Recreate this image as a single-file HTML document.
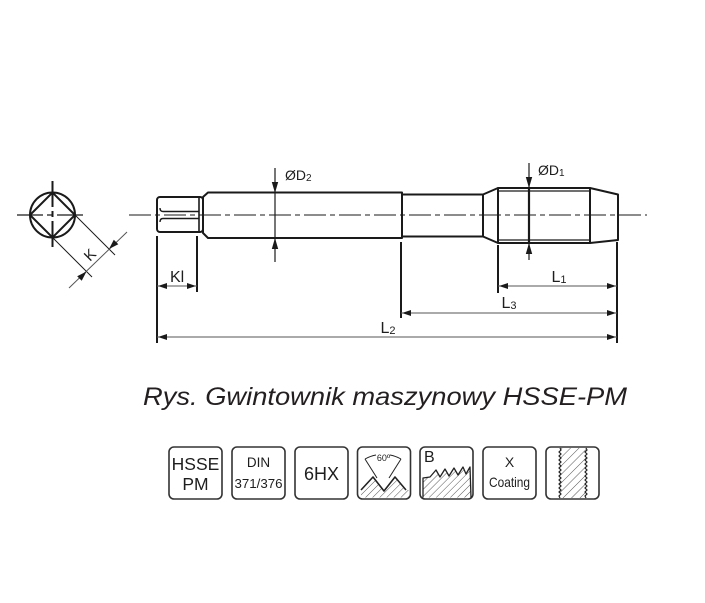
<!DOCTYPE html>
<html>
<head>
<meta charset="utf-8">
<style>
html,body{margin:0;padding:0;background:#fff;}
svg{display:block;}
text{font-family:"Liberation Sans",Arial,sans-serif;fill:#1e1e1e;}
</style>
</head>
<body>
<svg width="705" height="603" viewBox="0 0 705 603" xmlns="http://www.w3.org/2000/svg">
<defs>
<pattern id="h" width="5" height="5" patternUnits="userSpaceOnUse" patternTransform="rotate(45)">
<line x1="0" y1="0" x2="0" y2="5" stroke="#444" stroke-width="0.9"/>
</pattern>
<pattern id="h2" width="6" height="6" patternUnits="userSpaceOnUse" patternTransform="rotate(45)">
<line x1="0" y1="0" x2="0" y2="6" stroke="#444" stroke-width="0.9"/>
</pattern>
</defs>
<rect width="705" height="603" fill="#fff"/>

<!-- ===== End view ===== -->
<g stroke="#1a1a1a" fill="none">
<circle cx="52.5" cy="215" r="22.5" stroke-width="2"/>
<polygon points="30,215 52.5,192.5 75,215 52.5,237.5" stroke-width="2"/>
<line x1="17" y1="215" x2="87" y2="215" stroke-width="1.2" stroke-dasharray="26,4,6,4"/>
<line x1="52.5" y1="181" x2="52.5" y2="249" stroke-width="2" stroke-dasharray="26,4,6,4"/>
<!-- K extension lines -->
<line x1="75" y1="215" x2="115" y2="255" stroke-width="1"/>
<line x1="52.5" y1="237.5" x2="92" y2="277" stroke-width="1"/>
<!-- K dimension line -->
<line x1="127" y1="232" x2="69" y2="288" stroke-width="1" stroke="#555"/>
</g>
<polygon points="109,249 118.3,244.2 113.8,239.7" fill="#1a1a1a"/>
<polygon points="86.5,271.5 81.7,280.8 77.2,276.3" fill="#1a1a1a"/>
<text transform="translate(93.5,258.5) rotate(-45)" text-anchor="middle" font-size="15">K</text>

<!-- ===== Main view ===== -->
<g stroke="#1a1a1a" fill="none" stroke-width="2" stroke-linejoin="round">
<!-- centerline -->
<line x1="129" y1="215" x2="647" y2="215" stroke-width="1.1" stroke-dasharray="22,4,5,4"/>
<!-- hex end -->
<rect x="157" y="197" width="46" height="35" rx="3"/>
<path d="M199,197 L199,232" stroke-width="1.6"/>
<path d="M199,211.5 L163,211.5 Q160,211.5 160,208" stroke-width="1.4"/>
<path d="M199,218.5 L163,218.5 Q160,218.5 160,222" stroke-width="1.4"/>
<!-- shank -->
<polygon points="203,197 208,192.5 402,192.5 402,238 208,238 203,233"/>
<!-- neck -->
<line x1="402" y1="194.5" x2="483" y2="194.5"/>
<line x1="402" y1="236.5" x2="483" y2="236.5"/>
<line x1="483" y1="194.5" x2="483" y2="236.5"/>
<!-- taper -->
<line x1="483" y1="194.5" x2="498" y2="188"/>
<line x1="483" y1="236.5" x2="498" y2="243"/>
<!-- thread body -->
<rect x="498" y="188" width="92" height="55"/>
<line x1="498" y1="191" x2="590" y2="191" stroke-width="1.2"/>
<line x1="498" y1="240" x2="590" y2="240" stroke-width="1.2"/>
<!-- chamfer -->
<polyline points="590,188 618,194.5 618,240 590,243"/>
</g>

<!-- ØD2 -->
<line x1="275" y1="168" x2="275" y2="262" stroke="#1a1a1a" stroke-width="1.2"/>
<polygon points="275,193 271.8,182 278.2,182" fill="#1a1a1a"/>
<polygon points="275,238 271.8,249 278.2,249" fill="#1a1a1a"/>
<text x="285" y="180" font-size="14">ØD<tspan font-size="10" dy="1">2</tspan></text>

<!-- ØD1 -->
<line x1="529" y1="163" x2="529" y2="260" stroke="#1a1a1a" stroke-width="1.2"/>
<line x1="529" y1="188" x2="529" y2="243" stroke="#1a1a1a" stroke-width="2.2"/>
<polygon points="529,188 525.8,177 532.2,177" fill="#1a1a1a"/>
<polygon points="529,243 525.8,254 532.2,254" fill="#1a1a1a"/>
<text x="538" y="175" font-size="14">ØD<tspan font-size="10" dy="1">1</tspan></text>

<!-- extension lines -->
<g stroke="#1a1a1a" stroke-width="2">
<line x1="157" y1="236" x2="157" y2="343"/>
<line x1="197" y1="236" x2="197" y2="292"/>
<line x1="401" y1="242" x2="401" y2="318"/>
<line x1="498" y1="245" x2="498" y2="293"/>
<line x1="617" y1="242" x2="617" y2="343"/>
</g>

<!-- dimension lines -->
<g stroke="#555" stroke-width="1">
<line x1="157" y1="286" x2="197" y2="286"/>
<line x1="498" y1="286" x2="617" y2="286"/>
<line x1="401" y1="313" x2="617" y2="313"/>
<line x1="157" y1="337" x2="617" y2="337"/>
</g>
<g fill="#1a1a1a">
<polygon points="158,286 167,283 167,289"/>
<polygon points="196,286 187,283 187,289"/>
<polygon points="499,286 508,283 508,289"/>
<polygon points="616,286 607,283 607,289"/>
<polygon points="402,313 411,310 411,316"/>
<polygon points="616,313 607,310 607,316"/>
<polygon points="158,337 167,334 167,340"/>
<polygon points="616,337 607,334 607,340"/>
</g>
<text x="170" y="282" font-size="16">Kl</text>
<text x="551.5" y="282" font-size="16">L<tspan font-size="11" dy="1">1</tspan></text>
<text x="501.5" y="308" font-size="16">L<tspan font-size="11" dy="1">3</tspan></text>
<text x="380.5" y="333" font-size="16">L<tspan font-size="11" dy="1">2</tspan></text>

<!-- caption -->
<text x="143" y="405" font-size="25" font-style="italic" textLength="484" lengthAdjust="spacingAndGlyphs" style="fill:#231f20">Rys. Gwintownik maszynowy HSSE-PM</text>

<!-- ===== Icons ===== -->
<g fill="none" stroke="#333" stroke-width="1.6">
<rect x="169" y="447" width="53" height="52" rx="5"/>
<rect x="232" y="447" width="53" height="52" rx="5"/>
<rect x="295" y="447" width="53" height="52" rx="5"/>
<rect x="357.5" y="447" width="53" height="52" rx="5"/>
<rect x="420" y="447" width="53" height="52" rx="5"/>
<rect x="483" y="447" width="53" height="52" rx="5"/>
<rect x="546" y="447" width="53" height="52" rx="5"/>
</g>

<text x="195.5" y="470" font-size="17.5" text-anchor="middle">HSSE</text>
<text x="195.5" y="490" font-size="17.5" text-anchor="middle">PM</text>

<text x="258.5" y="467" font-size="13.5" text-anchor="middle">DIN</text>
<text x="234.5" y="488" font-size="13" textLength="48" lengthAdjust="spacingAndGlyphs">371/376</text>

<text x="321.5" y="480" font-size="18" text-anchor="middle">6HX</text>

<!-- 60° thread icon -->
<polygon points="361,497.5 361,490 373,477 384,491 395,477 406,490 409,490 409,497.5" fill="url(#h)" stroke="none"/>
<polyline points="361,490 373,477 384,491 395,477 406,490" fill="none" stroke="#222" stroke-width="1.6" stroke-linejoin="round"/>
<line x1="365" y1="459" x2="377" y2="478" stroke="#222" stroke-width="1"/>
<line x1="401" y1="459" x2="389" y2="478" stroke="#222" stroke-width="1"/>
<path d="M365,459 A35.8,35.8 0 0 1 376,455" fill="none" stroke="#222" stroke-width="1"/>
<path d="M390,455 A35.8,35.8 0 0 1 401,459" fill="none" stroke="#222" stroke-width="1"/>
<text x="383.5" y="461" font-size="9" text-anchor="middle">60º</text>

<!-- B sawtooth icon -->
<text x="424" y="462" font-size="16">B</text>
<polygon points="423,497.5 423,478 430,477 436,470 440,477 445,469 449,476 454,468 458,475 463,467 466,474 470,467 471,497.5" fill="url(#h)" stroke="none"/>
<polyline points="423,497.5 423,478 430,477 436,470 440,477 445,469 449,476 454,468 458,475 463,467 466,474 470,467 471,497.5" fill="none" stroke="#222" stroke-width="1.3" stroke-linejoin="round"/>

<!-- Coating icon -->
<text x="509.5" y="467" font-size="14" text-anchor="middle">X</text>
<text x="489" y="487" font-size="14" textLength="41" lengthAdjust="spacingAndGlyphs">Coating</text>

<!-- thread band icon -->
<rect x="560" y="448" width="26" height="50" fill="url(#h2)" stroke="none"/>
<polyline points="560,448 561,450 559,452 561,454 559,456 561,458 559,460 561,462 559,464 561,466 559,468 561,470 559,472 561,474 559,476 561,478 559,480 561,482 559,484 561,486 559,488 561,490 559,492 561,494 559,496 560,498" fill="none" stroke="#222" stroke-width="1.2"/>
<polyline points="586,448 587,450 585,452 587,454 585,456 587,458 585,460 587,462 585,464 587,466 585,468 587,470 585,472 587,474 585,476 587,478 585,480 587,482 585,484 587,486 585,488 587,490 585,492 587,494 585,496 586,498" fill="none" stroke="#222" stroke-width="1.2"/>
</svg>
</body>
</html>
